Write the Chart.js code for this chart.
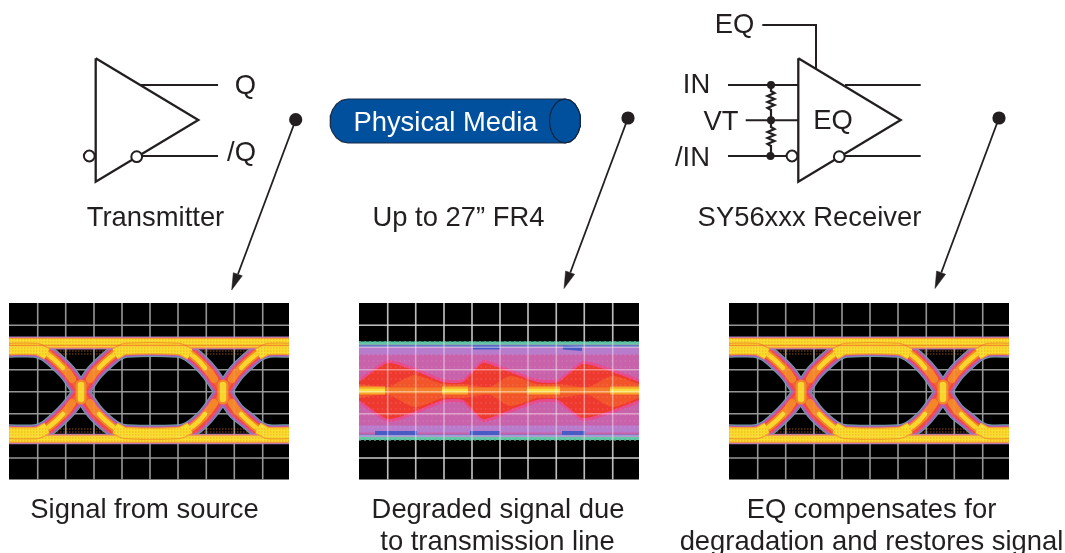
<!DOCTYPE html>
<html><head><meta charset="utf-8">
<style>html,body{margin:0;padding:0;background:#fff}canvas{display:block}</style>
<script src="https://cdn.jsdelivr.net/npm/chart.js@4"></script>
</head><body><canvas id="c" width="1065" height="553"></canvas>
<script>
// ---- text ----
const labelTexts = ["Q","/Q","Transmitter","Up to 27” FR4","SY56xxx Receiver","EQ","IN","VT","/IN","EQ",
  "Signal from source","Degraded signal due","to transmission line","EQ compensates for","degradation and restores signal"];
const labelX = [245.5,241.5,155.5,458.5,809.5,734.5,696.5,721,692.5,833,144.5,498,497.5,871.5,871.5];
const labelY = [86,153,218,218,218,25,85,122,158,121,510,510,542,510,542];
const mediaLabel = "Physical Media";
const mediaX = 445.5, mediaY = 123;

// ---- transmitter ----
const txTriangle = [[95.7,58.3],[198.3,120],[95.7,181.7],[95.7,58.3]];
const txQ = [[140,85],[218,85]];
const txNQ = [[141,156],[218,156]];
const txBubbles = [[89.3,156],[136.7,156.7]];

// ---- receiver ----
const rxTriangle = [[798.3,58.3],[900.7,120],[798.3,181.7],[798.3,58.3]];
const rxEq = [[762.3,25],[816,25],[816,68.5]];
const rxIn = [[728,85],[798,85]];
const rxVt = [[745.7,120.3],[798,120.3]];
const rxNIn = [[728,156],[787,156]];
const rxOut = [[845,85],[920.7,85]];
const rxNOut = [[845,156],[920.7,156]];
const rxBubbles = [[792,156],[839.3,156.7]];
const rxNodes = [[771,85],[771,120.3],[770.5,156]];
const rxResTop = [[771,85],[771,91],[774.5,93],[767.5,96],[774.5,99],[767.5,102],[774.5,105],[767.5,108],[771,110],[771,120]];
const rxResBot = [[771,120],[771,127],[774.5,129],[767.5,132],[774.5,135],[767.5,138],[774.5,141],[767.5,144],[771,146],[771,156]];

// ---- cable ----
const cableBody = [[348,99],[341.8,100.3],[336.4,104.1],[332.4,110],[330.6,115.3],[330,121],[330.6,126.7],[332.4,132],[336.4,137.9],[341.8,141.7],[348,143],[565,143],[570.3,141.7],[575,137.9],[578.4,132],[580,126.7],[580.5,121],[580,115.3],[578.4,110],[575,104.1],[570.3,100.3],[565,99],[348,99]];
const cableEnd = [[565,99],[559.7,100.3],[555,104.1],[551.6,110],[550,115.3],[549.5,121],[550,126.7],[551.6,132],[555,137.9],[559.7,141.7],[565,143],[570.3,141.7],[575,137.9],[578.4,132],[580,126.7],[580.5,121],[580,115.3],[578.4,110],[575,104.1],[570.3,100.3],[565,99]];

// ---- arrows ----
const arrowLines = [[[295.7,119.7],[238,274]],[[628,118],[570.3,272.5]],[[999,118],[941.3,272.5]]];
const arrowHeads = [
  [[231.7,290],[233.3,272.7],[242.3,275.8],[231.7,290]],
  [[564,288.5],[565.6,271],[574.6,274.2],[564,288.5]],
  [[935,288.5],[936.6,271],[945.6,274.2],[935,288.5]]];
const arrowDots = [[295.7,119.7],[628,118],[999,118]];

// ---- scope panels ----
const panelLeft = [9,359,729];
const panelTop = 303, panelBottom = 479.5, panelWidth = 280;
const gridXs = [28.7,56.7,85,113,141,169,197.3,225.3,253.7];
const gridYs = [325.3,347.3,369.7,391.7,413.7,436,458];

// eye traces: x is relative to panel left
const eyeTraceA = [[0,349],[26,349],[37,353],[48,362],[59,373],[72,392],[85,411],[96,422],[107,430],[118,433],[169,433],[180,430],[191,422],[201,411],[214,392],[227,373],[238,362],[249,353],[260,349],[280,349]];
const eyeTraceB = [[0,433],[26,433],[37,429],[48,420],[59,409],[72,392],[85,373],[96,362],[107,353],[118,349],[169,349],[180,353],[191,362],[201,373],[214,392],[227,411],[238,420],[249,429],[260,433],[280,433]];
const eyeFlat = [
  [[0,349],[28,349],[38,354]], [[106,354],[116,349],[170,349],[181,354]], [[249,354],[259,349],[280,349]],
  [[0,433],[28,433],[38,428]], [[106,428],[116,433],[170,433],[181,428]], [[249,428],[259,433],[280,433]]];
const eyeArmOrange = [
  [[26,349],[37,353],[48,362],[59,373],[63,379]], [[81,379],[85,373],[96,362],[107,353],[118,349]], [[169,349],[180,353],[191,362],[201,373],[205,379]], [[223,379],[227,373],[238,362],[249,353],[260,349]],
  [[26,433],[37,429],[48,420],[59,409],[63,403]], [[81,403],[85,409],[96,420],[107,429],[118,433]], [[169,433],[180,429],[191,420],[201,409],[205,403]], [[223,403],[227,409],[238,420],[249,429],[260,433]]];
const eyeArmYellow = [
  [[26,349],[37,353],[48,362],[54,368]], [[90,368],[96,362],[107,353],[118,349]], [[169,349],[180,353],[191,362],[196,368]], [[232,368],[238,362],[249,353],[260,349]],
  [[26,433],[37,429],[48,420],[54,414]], [[90,414],[96,420],[107,429],[118,433]], [[169,433],[180,429],[191,420],[196,414]], [[232,414],[238,420],[249,429],[260,433]]];
const eyeCross = [[[72,385],[72,399]],[[214,385],[214,399]]];
const eyeRails = [343,439];
const eyeRailWidth = [13,10.5];
const eyeDotRows = [339,342,345,348,351,354,429,432,435,438,441];

// degraded panel (absolute x)
const degBand = [[359,343],[639,343],[639,438],[359,438],[359,343]];
const degPink = [[359,379],[388,360],[413,367],[443,379],[463,379],[483,360],[507,368],[537,379],[558,379],[583,361],[610,368],[639,379],[639,379],[639,403],[639,403],[610,414],[583,421],[558,403],[537,403],[507,414],[483,422],[463,403],[443,403],[413,415],[388,422],[359,403],[359,403],[359,379],[359,379]];
const degRed = [[359,382],[388,363],[413,370],[443,382],[463,382],[483,363],[507,371],[537,382],[558,382],[583,364],[610,371],[639,382],[639,382],[639,400],[639,400],[610,411],[583,418],[558,400],[537,400],[507,411],[483,419],[463,400],[443,400],[413,412],[388,419],[359,400],[359,400],[359,382],[359,382]];
const degOrange = [[359,384],[388,387],[400,381],[415,375],[443,384],[463,384],[490,387],[510,376],[537,384],[558,384],[588,387],[612,376],[639,384],[639,384],[639,398],[639,398],[612,407],[588,395],[558,398],[537,398],[510,406],[490,395],[463,398],[443,398],[415,407],[388,395],[359,398],[359,398],[359,384],[359,384]];
const degCore = [[359,390.5],[639,390.5]];
const degYellow = [[[359,390.5],[385,390.5]],[[442,390.5],[468,390.5]],[[527,390.5],[560,390.5]],[[610,390.5],[639,390.5]]];
const degBlue = [[[473,347.5],[500,347.5]],[[563,347.5],[582,349]],[[375,433],[417,433]],[[470,433],[500,433]],[[562,433],[585,433]]];
const degEdges = [343.2,438.5];
const degRims = [346,435.5];
const degFuzz = [341.6,440.2];
const degLavender = [[[359,351],[639,351]],[[359,429],[639,429]]];
const degDotRows = [355,361,367,373,379,385,391,397,403,409,415,421,427];

// ---- helpers that turn the lists into datasets ----
const toXY = p => p.map(([x,y]) => ({x,y}));
const shift = (p,dx) => p.map(([x,y]) => [x+dx,y]);
const sets = [];
const line = (p,color,w,extra={}) => sets.push({data:toXY(p),showLine:true,borderColor:color,borderWidth:w,pointRadius:0,fill:false,tension:0,borderCapStyle:'butt',...extra});
const poly = (p,fillC,stroke,w,extra={}) => sets.push({data:toXY(p),showLine:true,borderColor:stroke,borderWidth:w,backgroundColor:fillC,pointRadius:0,fill:'shape',tension:0,...extra});
const dots = (p,r,fillC,stroke,w) => sets.push({data:toXY(p),showLine:false,pointRadius:r,pointBackgroundColor:fillC,pointBorderColor:stroke,pointBorderWidth:w});

const INK = '#231f20';

function grid(left,color,w){
  gridXs.forEach(g => line([[left+g,panelTop],[left+g,panelBottom]],color,w));
  gridYs.forEach(g => line([[left,g],[left+panelWidth,g]],color,w));
}
function panelBack(left){
  poly([[left,panelTop],[left+panelWidth,panelTop],[left+panelWidth,panelBottom],[left,panelBottom],[left,panelTop]],'#000','#000',0);
  grid(left,'#8c8c8c',1.6);
}
function eye(left){
  panelBack(left);
  const layers = [['#6f9c9f',17.5],['#8a6cc0',15.5],['#d34fa0',13.5],['#ef4a3e',10.5],['#f0603a',6]];
  layers.forEach(([c,w]) => [eyeTraceA,eyeTraceB].forEach(t => line(shift(t,left),c,w,{tension:.25})));
  eyeRails.forEach((y,i) => {
    const w = eyeRailWidth[i];
    line([[left,y],[left+panelWidth,y]],'#9a88c0',w);
    line([[left,y],[left+panelWidth,y]],'#e8709a',w-1.5);
    line([[left,y],[left+panelWidth,y]],'#f5a42c',w-3);
    line([[left,y],[left+panelWidth,y]],'#f7de2e',w-5);
  });
  eyeArmOrange.forEach(t => line(shift(t,left),'#f4862a',8,{tension:.25,borderCapStyle:'round'}));
  eyeArmYellow.forEach(t => line(shift(t,left),'#f8d62c',4.5,{tension:.25,borderCapStyle:'round'}));
  eyeFlat.forEach(t => line(shift(t,left),'#f4a02a',12.5,{tension:.25}));
  eyeFlat.forEach(t => line(shift(t,left),'#f8de2c',10,{tension:.25}));
  eyeCross.forEach(t => { line(shift(t,left),'#f4862a',11,{borderCapStyle:'round'}); line(shift(t,left),'#f6d62e',6.5,{borderCapStyle:'round'}); });
  line([[left,345.5],[left+panelWidth,345.5]],'rgba(238,90,40,.55)',1.5);
  eyeDotRows.forEach(y => line([[left,y],[left+panelWidth,y]],'rgba(240,130,30,.4)',1.4,{borderDash:[1.5,1.5]}));
  grid(left,'rgba(255,255,255,.08)',1.5);
}
function degraded(left){
  panelBack(left);
  poly(degBand,'#c863ab','#c863ab',0);
  degLavender.forEach(t => line(t,'#b77ccc',7));
  degRims.forEach(y => line([[left,y],[left+panelWidth,y]],'#6a78c8',2.2));
  degBlue.forEach(t => line(t,'#4a5cc4',4));
  degEdges.forEach(y => line([[left,y],[left+panelWidth,y]],'#63c6a6',3.2));
  degFuzz.forEach(y => line([[left,y],[left+panelWidth,y]],'#4f9f88',1.2,{borderDash:[2,3]}));
  poly(degPink,'#e84a8e','#e84a8e',0,{tension:.2});
  poly(degRed,'#ee3a2e','#ee3a2e',0,{tension:.2});
  poly(degOrange,'#f2552a','#f0482c',0,{tension:.25});
  line(degCore,'#f47e2a',6);
  degYellow.forEach(t => line(t,'#f8a92c',8));
  degYellow.forEach(t => line(t,'#f7de3a',3.5));
  degDotRows.forEach(y => line([[left,y],[left+panelWidth,y]],'rgba(255,190,220,.16)',1.4,{borderDash:[1.5,3]}));
  grid(left,'rgba(255,255,255,.42)',1.5);
}

// panels
eye(panelLeft[0]); degraded(panelLeft[1]); eye(panelLeft[2]);

// cable
poly(cableBody,'#00509e','#1c2b44',1.2);
poly(cableEnd,'#00509e','#14233a',1.2);

// transmitter
[txQ,txNQ].forEach(p => line(p,INK,2));
line(txTriangle,INK,2.3,{borderJoinStyle:'miter'});
dots(txBubbles,5.4,'#fff',INK,2);

// receiver
[rxEq,rxIn,rxVt,rxNIn,rxOut,rxNOut].forEach(p => line(p,INK,2));
[rxResTop,rxResBot].forEach(p => line(p,INK,2.2));
line(rxTriangle,INK,2.3,{borderJoinStyle:'miter'});
dots(rxBubbles,5.4,'#fff',INK,2);
dots(rxNodes,4,INK,INK,0);

// arrows
arrowLines.forEach(p => line(p,INK,1.8));
arrowHeads.forEach(p => poly(p,INK,INK,0.5));
dots(arrowDots,6.6,INK,INK,0);

const textPlugin = {
  id:'diagramText',
  afterDatasetsDraw(chart){
    const {ctx,scales:{x,y}} = chart;
    ctx.save();
    ctx.font = '27.4px "Liberation Sans", Arial, sans-serif';
    ctx.textAlign = 'center';
    ctx.textBaseline = 'middle';
    labelTexts.forEach((t,i) => {
      ctx.fillStyle = INK;
      ctx.fillText(t,x.getPixelForValue(labelX[i]),y.getPixelForValue(labelY[i]));
    });
    ctx.fillStyle = '#fff';
    ctx.fillText(mediaLabel,x.getPixelForValue(mediaX),y.getPixelForValue(mediaY));
    ctx.restore();
  }
};

new Chart(document.getElementById('c'),{
  type:'scatter',
  data:{datasets:sets.reverse()},
  options:{
    responsive:false,animation:false,events:[],
    layout:{padding:0,autoPadding:false},
    scales:{
      x:{type:'linear',min:0,max:1065,display:false},
      y:{type:'linear',min:0,max:553,reverse:true,display:false}
    },
    plugins:{legend:{display:false},tooltip:{enabled:false},filler:{drawTime:'beforeDatasetDraw'}}
  },
  plugins:[textPlugin]
});
</script></body></html>
